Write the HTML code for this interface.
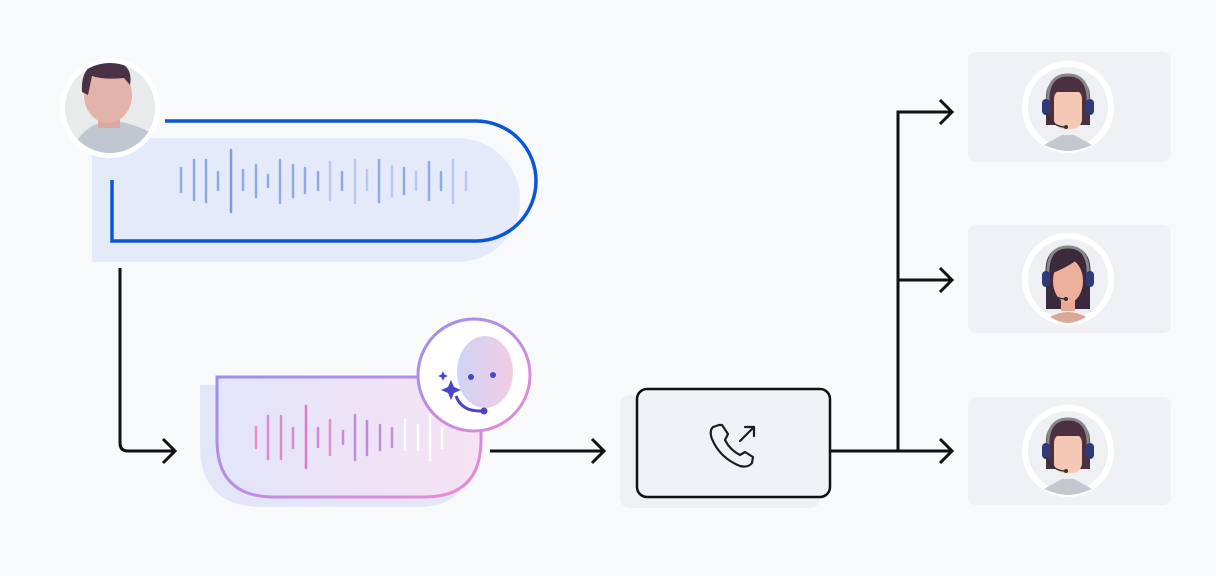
<!DOCTYPE html>
<html><head><meta charset="utf-8"><style>
html,body{margin:0;padding:0;background:#f8f9fb;}
svg{display:block}
</style></head><body>
<svg width="1216" height="576" viewBox="0 0 1216 576" xmlns="http://www.w3.org/2000/svg">
<defs>
<linearGradient id="pg" x1="0" y1="0" x2="1" y2="1">
<stop offset="0" stop-color="#9b8ef0"/><stop offset="0.6" stop-color="#c48ee0"/><stop offset="1" stop-color="#ee8ccc"/>
</linearGradient>
<linearGradient id="pf" x1="0" y1="0" x2="1" y2="0">
<stop offset="0" stop-color="#e2e5fb"/><stop offset="1" stop-color="#f6e2f2"/>
</linearGradient>
<linearGradient id="face" x1="0" y1="0" x2="1" y2="0">
<stop offset="0" stop-color="#c9cff5"/><stop offset="1" stop-color="#f0c6df"/>
</linearGradient>
<g id="agent">
<circle r="46" fill="#fff"/>
<circle r="40" fill="#eef0f4"/>
</g>
</defs>
<rect width="1216" height="576" fill="#f8f9fb"/>

<!-- blue bubble -->
<path d="M92 138 H458 A62 62 0 0 1 458 262 H92 Z" fill="#e4eaf9"/>
<path d="M165 121 H476 A60 60 0 0 1 476 241 H112 V180" fill="none" stroke="#0a56d8" stroke-width="3.5"/>
<g stroke="#8fa8e6" stroke-width="2.5" stroke-linecap="round">
<line x1="181" y1="168" x2="181" y2="192"/><line x1="194" y1="160" x2="194" y2="200"/><line x1="206" y1="160" x2="206" y2="202"/><line x1="218" y1="172" x2="218" y2="190"/><line x1="231" y1="150" x2="231" y2="212" stroke="#7f99e0"/><line x1="243" y1="170" x2="243" y2="190"/><line x1="256" y1="165" x2="256" y2="197"/><line x1="268" y1="175" x2="268" y2="187"/><line x1="280" y1="160" x2="280" y2="203"/><line x1="293" y1="165" x2="293" y2="197"/><line x1="305" y1="168" x2="305" y2="193"/><line x1="318" y1="172" x2="318" y2="190"/><line x1="330" y1="162" x2="330" y2="200" stroke="#b9c8f0"/><line x1="342" y1="172" x2="342" y2="190"/><line x1="355" y1="160" x2="355" y2="203" stroke="#b9c8f0"/><line x1="367" y1="170" x2="367" y2="190" stroke="#b9c8f0"/><line x1="379" y1="160" x2="379" y2="202"/><line x1="392" y1="166" x2="392" y2="196" stroke="#b9c8f0"/><line x1="404" y1="168" x2="404" y2="194"/><line x1="416" y1="172" x2="416" y2="190" stroke="#b9c8f0"/><line x1="429" y1="162" x2="429" y2="200"/><line x1="441" y1="172" x2="441" y2="190"/><line x1="453" y1="160" x2="453" y2="203" stroke="#b9c8f0"/><line x1="466" y1="172" x2="466" y2="190" stroke="#b9c8f0"/>
</g>

<!-- user avatar -->
<circle cx="110" cy="108" r="50" fill="#fff"/>
<circle cx="110" cy="108" r="45" fill="#e9eaeb"/>
<clipPath id="uc"><circle cx="110" cy="108" r="45"/></clipPath>
<g clip-path="url(#uc)">
<path d="M70 155 Q80 125 110 120 Q145 125 160 140 V160 H70Z" fill="#c0c7d1"/>
<rect x="98" y="110" width="22" height="18" fill="#d9a8a0"/>
<ellipse cx="108" cy="95" rx="24" ry="28" fill="#e2b3a9"/>
<path d="M82 92 Q80 62 108 60 Q134 62 130 85 L124 78 Q104 80 92 76 L88 95Z" fill="#4a3245"/>
</g>

<!-- down-right arrow -->
<path d="M120 268 V443 Q120 451 128 451 H175" fill="none" stroke="#111" stroke-width="3"/>
<path d="M163 439 L175 451 L163 463" fill="none" stroke="#111" stroke-width="3"/>

<!-- AI bubble -->
<path d="M200 385 H470 V455 Q470 507 418 507 H262 Q200 507 200 445 Z" fill="#e3e6f7"/>
<path d="M217 377 H481 V440 Q481 497 424 497 H274 Q217 497 217 440 Z" fill="url(#pf)" stroke="url(#pg)" stroke-width="3"/>
<g stroke-width="2.5" stroke-linecap="round">
<line x1="256" y1="427" x2="256" y2="448" stroke="#ee90c8"/><line x1="268" y1="416" x2="268" y2="459" stroke="#dc8ad0"/><line x1="281" y1="416" x2="281" y2="459" stroke="#dc8ad0"/><line x1="293" y1="428" x2="293" y2="448" stroke="#d88cd0"/><line x1="306" y1="406" x2="306" y2="468" stroke="#e07ac8"/><line x1="318" y1="428" x2="318" y2="447" stroke="#cf8ad6"/><line x1="330" y1="420" x2="330" y2="455" stroke="#e38cce"/><line x1="343" y1="431" x2="343" y2="444" stroke="#cc88d8"/><line x1="355" y1="415" x2="355" y2="460" stroke="#c58ad8"/><line x1="367" y1="421" x2="367" y2="455" stroke="#bf88d8"/><line x1="380" y1="425" x2="380" y2="450" stroke="#b790da"/><line x1="392" y1="428" x2="392" y2="447" stroke="#ca8ed6"/><line x1="405" y1="420" x2="405" y2="450" stroke="#fff"/><line x1="418" y1="425" x2="418" y2="450" stroke="#fff"/><line x1="430" y1="415" x2="430" y2="460" stroke="#fff"/><line x1="442" y1="428" x2="442" y2="448" stroke="#fff"/>
</g>
<circle cx="474" cy="375" r="56" fill="#fff" stroke="url(#pg)" stroke-width="3"/>
<ellipse cx="485" cy="372" rx="28" ry="36" fill="url(#face)" opacity="0.9"/>
<circle cx="471" cy="377" r="3" fill="#4a44c8"/><circle cx="493" cy="375" r="3" fill="#4a44c8"/>
<path d="M456 396 Q462 412 482 411" fill="none" stroke="#4a44c8" stroke-width="3"/>
<circle cx="484" cy="411" r="3.5" fill="#4a44c8"/>
<path d="M451 380 L454 387 L461 390 L454 393 L451 400 L448 393 L441 390 L448 387Z" fill="#4a44c8"/>
<path d="M443 371 L444.5 374.5 L448 376 L444.5 377.5 L443 381 L441.5 377.5 L438 376 L441.5 374.5Z" fill="#4a44c8"/>

<!-- arrow to phone -->
<path d="M490 451 H604" stroke="#111" stroke-width="3" fill="none"/>
<path d="M592 439 L604 451 L592 463" fill="none" stroke="#111" stroke-width="3"/>

<!-- phone box -->
<rect x="620" y="395" width="200" height="113" rx="10" fill="#eef0f3"/>
<rect x="637" y="389" width="193" height="108" rx="10" fill="#f1f2f6" stroke="#111" stroke-width="2.5"/>
<g fill="none" stroke="#1b1b24" stroke-width="2.2" stroke-linecap="round" stroke-linejoin="round">
<path d="M719 425 L713 427 Q709 431 712 439 Q720 458 740 466 Q748 468 752 463 L753 457 L745 452 L740 455 Q730 450 725 440 L728 434 L722 425Z"/>
<path d="M740 441 L754 427 M745 427 H754 V436"/>
</g>

<!-- branch lines -->
<path d="M830 451 H952 M898 451 V112 H952 M898 280 H952" stroke="#111" stroke-width="3" fill="none"/>
<path d="M940 100 L952 112 L940 124 M940 268 L952 280 L940 292 M940 439 L952 451 L940 463" fill="none" stroke="#111" stroke-width="3"/>

<!-- agent cards -->
<rect x="968" y="52" width="203" height="110" rx="8" fill="#f0f1f4"/>
<rect x="968" y="225" width="203" height="108" rx="8" fill="#f0f1f4"/>
<rect x="968" y="397" width="203" height="108" rx="8" fill="#f0f1f4"/>

<g transform="translate(1068,107)">
<use href="#agent"/>
<path d="M-22 -5 Q-24 -30 0 -31 Q24 -30 22 -5 V18 H-22Z" fill="#4b3040"/>
<path d="M-24 38 L-6 28 H6 L24 38 Q10 44 0 44 Q-10 44 -24 38Z" fill="#c4c8ce"/>
<rect x="-14" y="-18" width="28" height="40" rx="10" fill="#f5c8b5"/>
<path d="M-14 -15 V-22 H14 V-15" fill="#4b3040"/>
<path d="M-20 -2 Q-22 -32 0 -32 Q22 -32 20 -2" fill="none" stroke="#888" stroke-width="3"/>
<rect x="-26" y="-8" width="8" height="16" rx="4" fill="#2f3a7a"/><rect x="18" y="-8" width="8" height="16" rx="4" fill="#2f3a7a"/>
<path d="M-22 6 Q-16 20 -2 20" fill="none" stroke="#333" stroke-width="1.5"/><circle cx="-2" cy="20" r="2" fill="#333"/>
</g>
<g transform="translate(1068,279)">
<use href="#agent"/>
<path d="M-22 0 Q-26 -32 0 -33 Q26 -32 22 0 V30 H-22Z" fill="#3a2a3c"/>
<path d="M-18 38 Q0 28 18 38 Q8 44 0 44 Q-8 44 -18 38Z" fill="#d9a896"/>
<rect x="-7" y="16" width="14" height="16" fill="#eaa890"/>
<ellipse cx="0" cy="2" rx="15" ry="22" fill="#eeb09a"/>
<path d="M-15 -10 Q-8 -25 12 -22 Q4 -14 -15 -6Z" fill="#3a2a3c"/>
<path d="M-20 -2 Q-22 -32 0 -32 Q22 -32 20 -2" fill="none" stroke="#888" stroke-width="3"/>
<rect x="-26" y="-8" width="8" height="16" rx="4" fill="#2f3a7a"/><rect x="18" y="-8" width="8" height="16" rx="4" fill="#2f3a7a"/>
<path d="M-22 6 Q-16 20 -2 20" fill="none" stroke="#333" stroke-width="1.5"/><circle cx="-2" cy="20" r="2" fill="#333"/>
</g>
<g transform="translate(1068,451)">
<use href="#agent"/>
<path d="M-22 -5 Q-24 -30 0 -31 Q24 -30 22 -5 V18 H-22Z" fill="#4b3040"/>
<path d="M-24 38 L-6 28 H6 L24 38 Q10 44 0 44 Q-10 44 -24 38Z" fill="#c4c8ce"/>
<rect x="-14" y="-18" width="28" height="40" rx="10" fill="#f5c8b5"/>
<path d="M-14 -15 V-22 H14 V-15" fill="#4b3040"/>
<path d="M-20 -2 Q-22 -32 0 -32 Q22 -32 20 -2" fill="none" stroke="#888" stroke-width="3"/>
<rect x="-26" y="-8" width="8" height="16" rx="4" fill="#2f3a7a"/><rect x="18" y="-8" width="8" height="16" rx="4" fill="#2f3a7a"/>
<path d="M-22 6 Q-16 20 -2 20" fill="none" stroke="#333" stroke-width="1.5"/><circle cx="-2" cy="20" r="2" fill="#333"/>
</g>
</svg>
</body></html>
